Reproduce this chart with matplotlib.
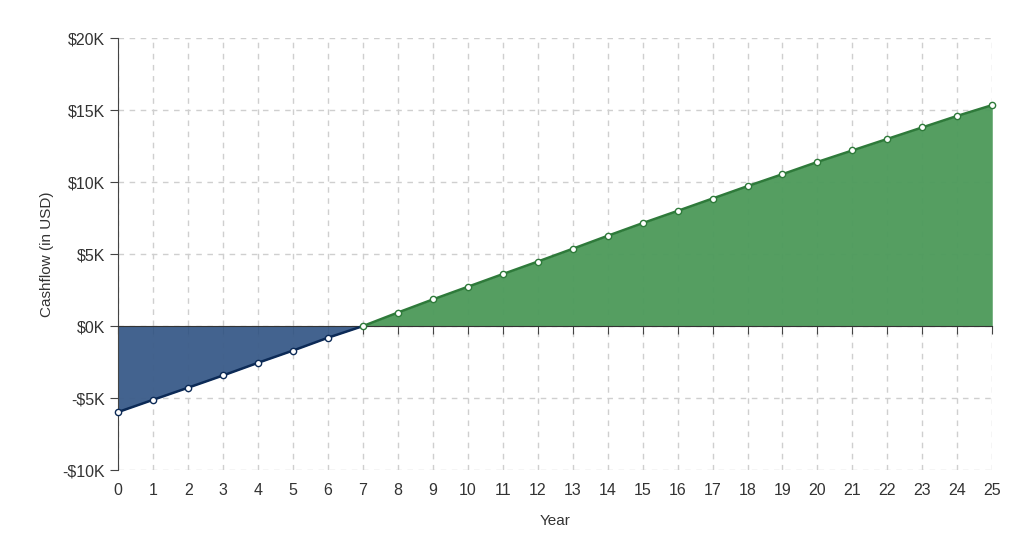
import numpy as np
import matplotlib.pyplot as plt

plt.rcParams['font.family'] = ['Liberation Sans', 'DejaVu Sans']

years = list(range(26))
cashflow = [-5.97, -5.12, -4.28, -3.43, -2.55, -1.70, -0.81, 0.0,
            0.94, 1.85, 2.73, 3.61, 4.48, 5.37, 6.27, 7.15, 8.0,
            8.86, 9.72, 10.55, 11.4, 12.2, 13.0, 13.8, 14.6, 15.35]
y_ticks = [-10, -5, 0, 5, 10, 15, 20]
y_labels = ["-$10K", "-$5K", "$0K", "$5K", "$10K", "$15K", "$20K"]

x = np.array(years)
y = np.array(cashflow)
neg = x <= 7
pos = x >= 7

fig = plt.figure(figsize=(10.24, 5.45), dpi=100)
ax = fig.add_axes([0.1155, 0.1376, 0.8535, 0.7924])

ax.set_xlim(0, 25)
ax.set_ylim(-10, 20)
ax.set_yticks(y_ticks)
ax.set_yticklabels(y_labels)
ax.set_xticks(years)

ax.grid(True, color='#cfcfcf', linestyle=(0, (4, 4)), linewidth=1)
ax.set_axisbelow(True)

# negative part
ax.fill_between(x[neg], y[neg], 0, color='#3d5e8b', alpha=0.97, lw=0, zorder=2)
ax.plot(x[neg], y[neg], color='#0c2a56', lw=1.8, zorder=3)
ax.plot(x[neg][:-1], y[neg][:-1], 'o', ms=4.5, mfc='white', mec='#0c2a56', mew=1, zorder=4, clip_on=False)

# positive part
ax.fill_between(x[pos], y[pos], 0, color='#4f9b5c', alpha=0.97, lw=0, zorder=2)
ax.plot(x[pos], y[pos], color='#2e7a3a', lw=1.8, zorder=3)
ax.plot(x[pos], y[pos], 'o', ms=4.5, mfc='white', mec='#2e7a3a', mew=1, zorder=4, clip_on=False)

for s in ['top', 'right']:
    ax.spines[s].set_visible(False)
ax.spines['left'].set_color('#444444')
ax.spines['bottom'].set_position(('data', 0))
ax.spines['bottom'].set_color('#333333')
ax.spines['bottom'].set_zorder(2.5)
ax.tick_params(axis='y', colors='#444444', length=6, labelsize=11.5, labelcolor='#333333')
ax.tick_params(axis='x', colors='#444444', length=6, labelbottom=False)

sec = ax.secondary_xaxis('bottom')
sec.set_xticks(years)
sec.spines['bottom'].set_visible(False)
sec.tick_params(length=0, labelsize=11.5, labelcolor='#333333', pad=9)
sec.set_xlabel('Year', fontsize=11, color='#333333', labelpad=12)

ax.set_ylabel('Cashflow (in USD)', fontsize=11, color='#333333', labelpad=6)

fig.savefig('out.png', dpi=100)
